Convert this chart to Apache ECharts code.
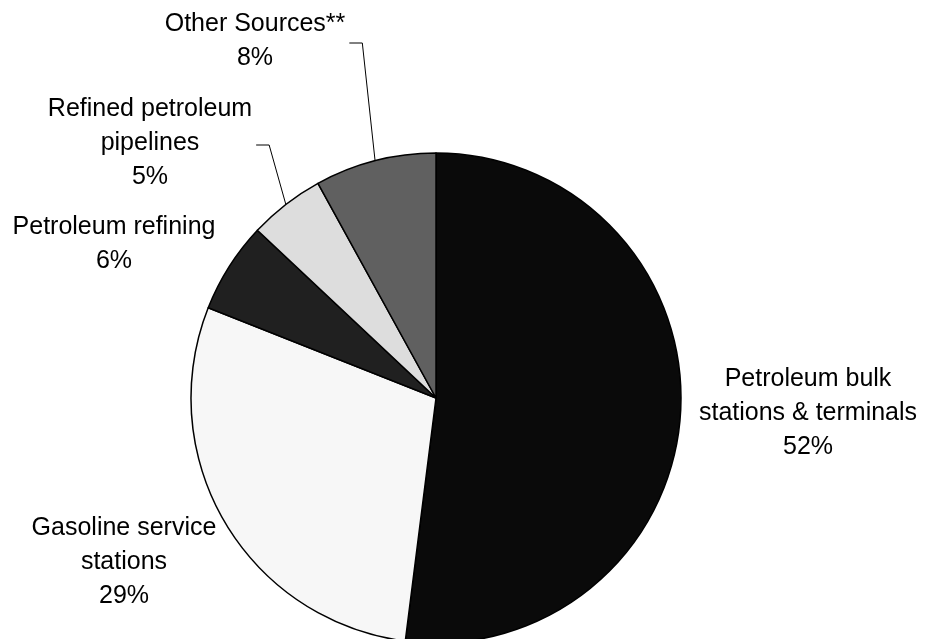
<!DOCTYPE html>
<html>
<head>
<meta charset="utf-8">
<script src="https://cdn.jsdelivr.net/npm/echarts@6/dist/echarts.min.js"></script>
<style>
html,body{margin:0;padding:0;background:#fff;}
#chart{width:928px;height:639px;}
</style>
</head>
<body>
<div id="chart"></div>
<script>
// ---- data ----
var categories = [
  'Petroleum bulk\nstations & terminals',
  'Gasoline service\nstations',
  'Petroleum refining',
  'Refined petroleum\npipelines',
  'Other Sources**'
];
var shares = [52, 29, 6, 5, 8];
var sliceColors = ['#0a0a0a', '#f7f7f7', '#202020', '#dddddd', '#606060'];
var hasLeader = [false, false, false, true, true];

// ---- layout (label centres) ----
var labelPos = [
  [808, 413],
  [124, 562],
  [114, 244],
  [150, 143],
  [255, 41]
];

var chart = echarts.init(document.getElementById('chart'), null, {renderer: 'canvas'});

var data = categories.map(function (c, i) {
  return {
    name: c,
    value: shares[i],
    itemStyle: {color: sliceColors[i]},
    labelLine: {show: hasLeader[i]}
  };
});

chart.setOption({
  animation: false,
  backgroundColor: '#ffffff',
  series: [{
    type: 'pie',
    center: [436, 398],
    radius: 245,
    startAngle: 90,
    clockwise: true,
    avoidLabelOverlap: false,
    data: data,
    itemStyle: {borderColor: '#000', borderWidth: 1.5},
    label: {
      show: true,
      position: 'outside',
      formatter: '{b}\n{c}%',
      fontFamily: '"Liberation Sans", Arial, sans-serif',
      fontSize: 25,
      lineHeight: 34,
      color: '#000',
      align: 'center'
    },
    labelLine: {
      show: true,
      length: 20,
      length2: 10,
      lineStyle: {color: '#000', width: 1}
    },
    labelLayout: function (params) {
      var i = params.dataIndex;
      var p = labelPos[i];
      var res = {x: p[0], y: p[1], align: 'center', verticalAlign: 'middle'};
      if (hasLeader[i] && params.labelLinePoints) {
        var p0 = params.labelLinePoints[0];
        var halfW = params.labelRect.width / 2;
        var endX = p[0] + halfW + 4;
        var midX = endX + 13;
        res.labelLinePoints = [[p0[0], p0[1]], [midX, p[1] + 2], [endX, p[1] + 2]];
      }
      return res;
    }
  }]
});
</script>
</body>
</html>
